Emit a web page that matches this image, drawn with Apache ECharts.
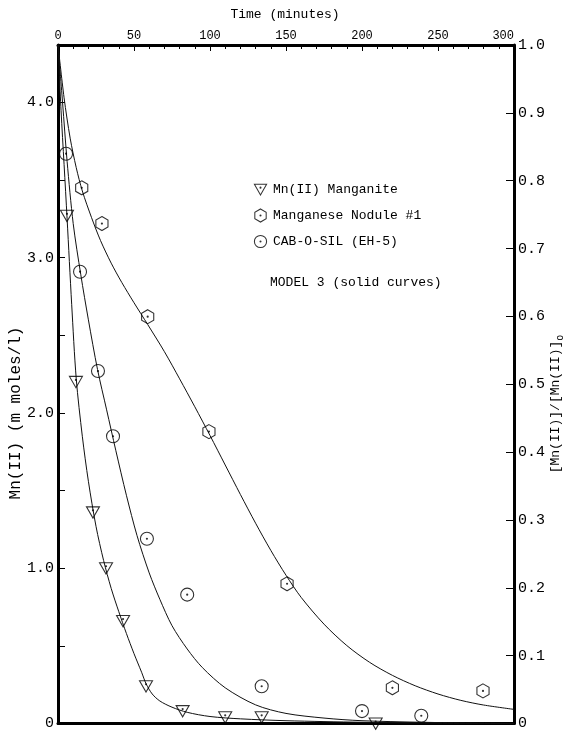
<!DOCTYPE html>
<html><head><meta charset="utf-8">
<script src="https://cdn.jsdelivr.net/npm/echarts@6/dist/echarts.min.js"></script>
<style>html,body{margin:0;padding:0;background:#fff}#c{width:564px;height:731px}</style>
</head><body><div id="c"></div>
<script>
// ---- data (time in minutes, Mn(II) in m moles/l) ----
const timeTickValues = [0, 50, 100, 150, 200, 250, 300];
const seriesNames = ['Mn(II) Manganite', 'Manganese Nodule #1', 'CAB-O-SIL (EH-5)'];

const manganiteObs = [[5.9,3.27],[11.8,2.20],[23,1.36],[31.6,1.00],[42.8,0.66],[57.9,0.24],[82,0.08],[110,0.04],[134,0.04],[209,0.0]];
const noduleObs = [[15.6,3.45],[28.9,3.22],[59,2.62],[99.3,1.88],[150.7,0.90],[220,0.23],[279.6,0.21]];
const cabObs = [[5.3,3.67],[14.5,2.91],[26.3,2.27],[36.2,1.85],[58.5,1.19],[85,0.83],[134,0.24],[200,0.08],[239,0.05]];

const manganiteCurve = [[0,4.37],[2,3.95],[4,3.6],[6,3.25],[9,2.7],[12,2.22],[16,1.85],[20,1.56],[25,1.27],[30,1.05],[35,0.87],[40,0.72],[45,0.58],[50,0.45],[55,0.33],[58,0.255],[62,0.19],[67,0.145],[75,0.105],[85,0.072],[100,0.045],[120,0.03],[150,0.018],[200,0.008],[250,0.003],[300,0]];
const cabCurve = [[0,4.37],[3,4.0],[6,3.62],[10,3.22],[15,2.89],[20,2.6],[26,2.28],[32,2.02],[38,1.76],[45,1.47],[52,1.21],[60,0.97],[67,0.8],[75,0.63],[85,0.48],[95,0.36],[110,0.23],[130,0.12],[150,0.065],[175,0.035],[200,0.018],[250,0.006],[300,0]];
const noduleCurve = [[0,4.37],[4,4.03],[8,3.77],[12,3.58],[16,3.43],[22,3.26],[28,3.11],[35,2.965],[42,2.84],[50,2.71],[59,2.57],[70,2.395],[80,2.22],[90,2.04],[100,1.855],[110,1.665],[120,1.475],[130,1.29],[140,1.115],[150,0.955],[160,0.812],[175,0.64],[190,0.502],[205,0.394],[220,0.31],[235,0.243],[250,0.19],[265,0.149],[280,0.119],[300,0.091]];

const leftMax = 4.37;

// ---- symbols ----
function svgUri(s){return 'image://data:image/svg+xml;charset=utf-8,'+encodeURIComponent(s);}
const triSym = svgUri("<svg xmlns='http://www.w3.org/2000/svg' width='16' height='14' viewBox='0 0 16 14'><path d='M1.5 1.5 H14.5 L8 12.8 Z' fill='none' stroke='black' stroke-width='1.1'/><circle cx='8' cy='5' r='1.1' fill='black'/></svg>");
const hexSym = svgUri("<svg xmlns='http://www.w3.org/2000/svg' width='16' height='16' viewBox='0 0 16 16'><path d='M8 1 L14.06 4.5 L14.06 11.5 L8 15 L1.94 11.5 L1.94 4.5 Z' fill='none' stroke='black' stroke-width='1.1'/><circle cx='8' cy='8' r='1.1' fill='black'/></svg>");
const cirSym = svgUri("<svg xmlns='http://www.w3.org/2000/svg' width='16' height='16' viewBox='0 0 16 16'><circle cx='8' cy='8' r='6.5' fill='none' stroke='black' stroke-width='1.1'/><circle cx='8' cy='8' r='1.1' fill='black'/></svg>");

const FONT = 'Liberation Mono';
const chart = echarts.init(document.getElementById('c'), null, {renderer:'canvas'});

function curve(data){
  return {type:'line', data:data, smooth:0.3, symbol:'none', silent:true,
    lineStyle:{color:'#111', width:1}, xAxisIndex:0, yAxisIndex:0, z:2};
}
function pts(name, data, sym, size){
  return {type:'scatter', name:name, data:data, symbol:sym, symbolSize:size, silent:true,
    itemStyle:{color:'#000'}, xAxisIndex:0, yAxisIndex:0, z:3};
}

chart.setOption({
  animation:false,
  backgroundColor:'#fff',
  grid:{left:58, right:50, top:45, bottom:7, containLabel:false},
  xAxis:[
    {type:'value', position:'top', min:0, max:300, interval:50,
     axisLine:{onZero:false, lineStyle:{color:'#000', width:3}},
     axisTick:{inside:true, length:6, lineStyle:{color:'#000', width:1}},
     minorTick:{show:true, splitNumber:5, length:4, lineStyle:{color:'#000', width:1}},
     axisLabel:{fontFamily:FONT, fontSize:12, color:'#000', margin:3, alignMaxLabel:'right',
       formatter:function(v){return timeTickValues.indexOf(v)>=0 ? String(v) : '';}},
     splitLine:{show:false}},
    {type:'value', position:'bottom', min:0, max:300,
     axisLine:{onZero:false, lineStyle:{color:'#000', width:3}},
     axisTick:{show:false}, axisLabel:{show:false}, splitLine:{show:false}}
  ],
  yAxis:[
    {type:'value', position:'left', min:0, max:leftMax, interval:0.5,
     axisLine:{onZero:false, lineStyle:{color:'#000', width:3}},
     axisTick:{inside:true, length:7, lineStyle:{color:'#000', width:1}},
     axisLabel:{fontFamily:FONT, fontSize:15, color:'#000', margin:4, showMaxLabel:false,
       formatter:function(v){ if(v===0) return '0'; return (Math.abs(v-Math.round(v))<1e-9 && v<=4) ? v.toFixed(1) : ''; }},
     splitLine:{show:false}},
    {type:'value', position:'right', min:0, max:1, interval:0.1,
     axisLine:{onZero:false, lineStyle:{color:'#000', width:3}},
     axisTick:{inside:true, length:8, lineStyle:{color:'#000', width:1}},
     axisLabel:{fontFamily:FONT, fontSize:15, color:'#000', margin:4,
       formatter:function(v){ return v===0 ? '0' : v.toFixed(1); }},
     splitLine:{show:false}}
  ],
  legend:{
    orient:'vertical', left:248, top:177, itemWidth:15, itemHeight:15, itemGap:11,
    textStyle:{fontFamily:FONT, fontSize:13, color:'#000'},
    data:[{name:seriesNames[0], icon:triSym},{name:seriesNames[1], icon:hexSym},{name:seriesNames[2], icon:cirSym}],
    selectedMode:false
  },
  graphic:[
    {type:'text', position:[285,15], style:{text:'Time (minutes)', fontFamily:FONT, fontSize:13, fill:'#000', textAlign:'center', textVerticalAlign:'middle'}},
    {type:'text', position:[270,283], style:{text:'MODEL 3 (solid curves)', fontFamily:FONT, fontSize:13, fill:'#000', textAlign:'left', textVerticalAlign:'middle'}},
    {type:'text', position:[16,413], rotation:Math.PI/2, style:{text:'Mn(II) (m moles/l)', fontFamily:FONT, fontSize:16, fill:'#000', textAlign:'center', textVerticalAlign:'middle'}},
    {type:'text', position:[556,404], rotation:Math.PI/2, style:{text:'{a|[Mn(II)]/[Mn(II)]}{b|o}', fill:'#000', textAlign:'center', textVerticalAlign:'middle',
      rich:{a:{fontFamily:FONT, fontSize:13, fill:'#000'}, b:{fontFamily:FONT, fontSize:10, fill:'#000', padding:[8,0,0,0]}}}}
  ],
  series:[
    curve(manganiteCurve), curve(cabCurve), curve(noduleCurve),
    pts(seriesNames[0], manganiteObs, triSym, [16,14]),
    pts(seriesNames[1], noduleObs, hexSym, [16,16]),
    pts(seriesNames[2], cabObs, cirSym, [16,16])
  ]
});
</script>
</body></html>
